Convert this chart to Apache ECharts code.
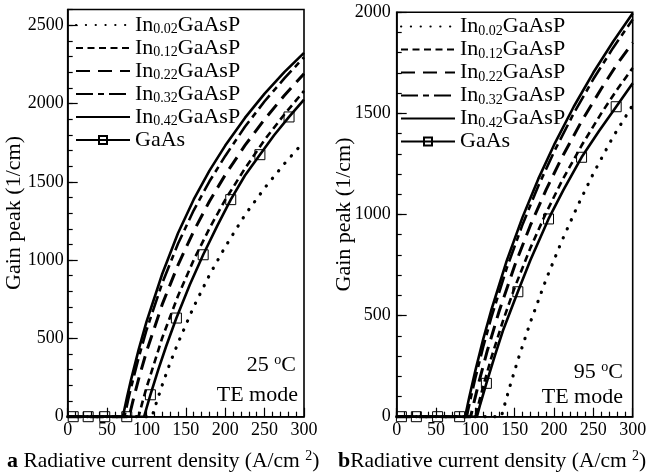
<!DOCTYPE html>
<html>
<head>
<meta charset="utf-8">
<script src="https://cdn.jsdelivr.net/npm/echarts@6/dist/echarts.min.js"></script>
<style>
  html, body { margin: 0; padding: 0; background: #fff; }
  #chart { width: 655px; height: 475px; }
</style>
</head>
<body>
<div id="chart"></div>
<script>
// ---- Panel a: 25 °C, TE mode ----
const a_In002_j = [0, 107, 112, 120, 130, 140, 160, 180, 200, 225, 250, 275, 300];
const a_In002_g = [0, 0, 80, 202, 343, 470, 702, 905, 1085, 1288, 1460, 1615, 1756];
const a_In012_j = [0, 90, 95, 100, 120, 140, 160, 180, 200, 225, 250, 275, 300];
const a_In012_g = [0, 0, 95, 185, 503, 771, 1001, 1203, 1385, 1585, 1768, 1930, 2080];
const a_In022_j = [0, 78, 83, 90, 100, 120, 140, 160, 180, 200, 225, 250, 275, 300];
const a_In022_g = [0, 0, 104, 240, 415, 717, 968, 1185, 1376, 1544, 1732, 1899, 2051, 2190];
const a_In032_j = [0, 72, 77, 80, 90, 100, 120, 140, 160, 180, 200, 225, 250, 275, 300];
const a_In032_g = [0, 0, 113, 177, 375, 552, 853, 1104, 1318, 1503, 1665, 1851, 2014, 2160, 2295];
const a_In042_j = [0, 70, 75, 80, 90, 100, 120, 140, 160, 180, 200, 225, 250, 275, 300];
const a_In042_g = [0, 0, 117, 227, 427, 606, 911, 1171, 1387, 1571, 1731, 1908, 2063, 2200, 2323];
const a_GaAs_j = [0, 7, 26, 47, 75, 97, 100, 105, 115, 125, 138, 155, 172, 190, 207, 225, 244, 262, 281, 300];
const a_GaAs_g = [0, 0, 0, 0, 0, 0, 54, 140, 300, 450, 630, 842, 1034, 1220, 1386, 1540, 1673, 1797, 1914, 2025];
const a_GaAs_marks = [7, 26, 47, 75, 105, 138, 172, 207, 244, 281];

// ---- Panel b: 95 °C, TE mode ----
const b_In002_j = [0, 133, 138, 145, 155, 170, 190, 210, 230, 250, 275, 300];
const b_In002_g = [0, 0, 70, 165, 292, 468, 680, 870, 1043, 1203, 1384, 1541];
const b_In012_j = [0, 100, 105, 110, 120, 135, 150, 170, 190, 210, 235, 260, 280, 300];
const b_In012_g = [0, 0, 77, 151, 288, 473, 639, 835, 1009, 1166, 1341, 1500, 1617, 1725];
const b_In022_j = [0, 94, 99, 105, 115, 130, 150, 170, 190, 210, 235, 260, 280, 300];
const b_In022_g = [0, 0, 83, 178, 324, 519, 748, 947, 1123, 1282, 1461, 1622, 1743, 1850];
const b_In032_j = [0, 89, 94, 100, 110, 120, 140, 160, 180, 200, 225, 250, 275, 300];
const b_In032_g = [0, 0, 90, 191, 346, 487, 736, 951, 1141, 1310, 1500, 1670, 1824, 1965];
const b_In042_j = [0, 87, 92, 100, 110, 120, 140, 160, 180, 200, 225, 250, 275, 300];
const b_In042_g = [0, 0, 92, 228, 384, 524, 773, 987, 1176, 1344, 1533, 1702, 1854, 1995];
const b_GaAs_j = [0, 6, 25, 52, 80, 102, 106, 114, 125, 135, 154, 170, 193, 212, 235, 257, 279, 300];
const b_GaAs_g = [0, 0, 0, 0, 0, 0, 59, 165, 305, 425, 618, 775, 978, 1122, 1283, 1412, 1533, 1649];
const b_GaAs_marks = [6, 25, 52, 80, 114, 154, 193, 235, 279];

// Axis ticks
const xTicks = [0, 50, 100, 150, 200, 250, 300];
const aYMax = 2600, bYMax = 2000;

const seriesNames = ['In0.02GaAsP', 'In0.12GaAsP', 'In0.22GaAsP', 'In0.32GaAsP', 'In0.42GaAsP', 'GaAs'];

const SERIF = '"Liberation Serif", "Times New Roman", serif';

// line styles for each composition
const styles = {
  'In0.02GaAsP': { width: 3.2, type: [0.3, 9.5], cap: 'round' },
  'In0.12GaAsP': { width: 2.6, type: [7, 4.5] },
  'In0.22GaAsP': { width: 3, type: [14, 8] },
  'In0.32GaAsP': { width: 2.6, type: [17, 5, 6, 5] },
  'In0.42GaAsP': { width: 2.6, type: 'solid' },
  'GaAs': { width: 2.6, type: 'solid' }
};

function pairs(js, gs, marks) {
  return js.map((j, i) => {
    const item = { value: [j, gs[i]] };
    if (marks) item.symbol = marks.indexOf(j) >= 0 ? 'rect' : 'none';
    return item;
  });
}

function makeSeries(name, js, gs, gridIdx, marks) {
  const isGaAs = name === 'GaAs';
  return {
    type: 'line',
    name: name,
    xAxisIndex: gridIdx,
    yAxisIndex: gridIdx * 2,
    data: pairs(js, gs, marks),
    smooth: false,
    clip: false,
    symbol: isGaAs ? 'rect' : 'none',
    symbolSize: 10,
    showSymbol: isGaAs,
    itemStyle: isGaAs
      ? { color: 'rgba(0,0,0,0)', borderColor: '#000', borderWidth: 1 }
      : { color: 'rgba(0,0,0,0)', borderColor: 'rgba(0,0,0,0)', borderWidth: 0 },
    lineStyle: Object.assign({ color: '#000', join: 'round' }, styles[name]),
    emphasis: { disabled: true },
    animation: false
  };
}

const aData = [
  [a_In002_j, a_In002_g], [a_In012_j, a_In012_g], [a_In022_j, a_In022_g],
  [a_In032_j, a_In032_g], [a_In042_j, a_In042_g], [a_GaAs_j, a_GaAs_g]
];
const bData = [
  [b_In002_j, b_In002_g], [b_In012_j, b_In012_g], [b_In022_j, b_In022_g],
  [b_In032_j, b_In032_g], [b_In042_j, b_In042_g], [b_GaAs_j, b_GaAs_g]
];

const series = [];
seriesNames.forEach((n, i) => {
  series.push(makeSeries(n, aData[i][0], aData[i][1], 0, n === 'GaAs' ? a_GaAs_marks : null));
});
seriesNames.forEach((n, i) => {
  series.push(makeSeries(n, bData[i][0], bData[i][1], 1, n === 'GaAs' ? b_GaAs_marks : null));
});

const richText = {
  sub: { fontSize: 14, fontFamily: SERIF, color: '#000', padding: [9, 0, 0, 0], lineHeight: 14 },
  sup: { fontSize: 14, fontFamily: SERIF, color: '#000', padding: [0, 0, 9, 0], lineHeight: 14 },
  bold: { fontSize: 22, fontFamily: SERIF, fontWeight: 'bold', color: '#000' }
};

function legendFmt(name) {
  const m = name.match(/^In([\d.]+)GaAsP$/);
  return m ? 'In{sub|' + m[1] + '}GaAsP' : name;
}

function legendFor(left, top) {
  return {
    orient: 'vertical',
    left: left, top: top,
    itemWidth: 54, itemHeight: 10, itemGap: 0,
    padding: 0,
    selectedMode: false,
    data: seriesNames.map(n => n === 'GaAs'
      ? { name: n }
      : { name: n, itemStyle: { opacity: 0 } }),
    formatter: legendFmt,
    textStyle: { fontFamily: SERIF, fontSize: 22, lineHeight: 23, color: '#000', rich: richText }
  };
}

function xAxisFor(gridIdx) {
  return {
    type: 'value', gridIndex: gridIdx, min: 0, max: 300, interval: 50,
    axisLine: { show: true, lineStyle: { color: '#000', width: 1.6 } },
    axisTick: { show: true, inside: true, length: 9, lineStyle: { color: '#000', width: 1.2 } },
    minorTick: { show: true, splitNumber: 5, length: 5, lineStyle: { color: '#000', width: 1.2 } },
    axisLabel: { margin: 5, fontFamily: SERIF, fontSize: 18, color: '#000',
      customValues: xTicks, formatter: v => String(v) },
    splitLine: { show: false }
  };
}

function yAxesFor(gridIdx, max, margin) {
  return [{
    type: 'value', gridIndex: gridIdx, min: 0, max: max, interval: 500, position: 'left',
    axisLine: { show: true, lineStyle: { color: '#000', width: 1.6 } },
    axisTick: { show: true, inside: true, length: 10, lineStyle: { color: '#000', width: 1.2 } },
    axisLabel: { margin: margin, fontFamily: SERIF, fontSize: 18, color: '#000',
      showMaxLabel: max % 500 === 0, formatter: v => String(v) },
    splitLine: { show: false }
  }, {
    // minor ticks every 100
    type: 'value', gridIndex: gridIdx, min: 0, max: max, interval: 100, position: 'left',
    axisLine: { show: false },
    axisTick: { show: true, inside: true, length: 5, lineStyle: { color: '#000', width: 1.2 } },
    axisLabel: { show: false },
    splitLine: { show: false }
  }];
}

const textFont = '22px "Liberation Serif", "Times New Roman", serif';
const titleFont = '21.5px "Liberation Serif", "Times New Roman", serif';

const option = {
  backgroundColor: '#fff',
  animation: false,
  textStyle: { fontFamily: SERIF },
  grid: [
    { left: 67.7, top: 9.5, width: 236.3, height: 407.2, show: true, borderColor: '#000', borderWidth: 1.6, backgroundColor: 'transparent' },
    { left: 396.7, top: 12.3, width: 236, height: 404.4, show: true, borderColor: '#000', borderWidth: 1.6, backgroundColor: 'transparent' }
  ],
  xAxis: [xAxisFor(0), xAxisFor(1)],
  yAxis: yAxesFor(0, aYMax, 4).concat(yAxesFor(1, bYMax, 6)),
  legend: [legendFor(75, 13.5), legendFor(400, 15)],
  series: series,
  graphic: [
    { type: 'text', x: 14, y: 213, rotation: Math.PI / 2,
      style: { text: 'Gain peak (1/cm)', font: textFont, fill: '#000', align: 'center', verticalAlign: 'middle' } },
    { type: 'text', x: 344, y: 214.5, rotation: Math.PI / 2,
      style: { text: 'Gain peak (1/cm)', font: textFont, fill: '#000', align: 'center', verticalAlign: 'middle' } },
    { type: 'text', x: 7, y: 461,
      style: { text: '{bold|a} Radiative current density (A/cm {sup|2})', font: titleFont, fill: '#000',
        align: 'left', verticalAlign: 'middle', rich: richText } },
    { type: 'text', x: 338, y: 461,
      style: { text: '{bold|b}Radiative current density (A/cm {sup|2})', font: titleFont, fill: '#000',
        align: 'left', verticalAlign: 'middle', rich: richText } },
    { type: 'text', x: 296, y: 365,
      style: { text: '25 {sup|o}C', font: textFont, fill: '#000', align: 'right', verticalAlign: 'middle', rich: richText } },
    { type: 'text', x: 298, y: 395,
      style: { text: 'TE mode', font: textFont, fill: '#000', align: 'right', verticalAlign: 'middle' } },
    { type: 'text', x: 623, y: 372,
      style: { text: '95 {sup|o}C', font: textFont, fill: '#000', align: 'right', verticalAlign: 'middle', rich: richText } },
    { type: 'text', x: 623, y: 397,
      style: { text: 'TE mode', font: textFont, fill: '#000', align: 'right', verticalAlign: 'middle' } }
  ]
};

const chart = echarts.init(document.getElementById('chart'), null, { renderer: 'canvas' });
chart.setOption(option);
</script>
</body>
</html>
